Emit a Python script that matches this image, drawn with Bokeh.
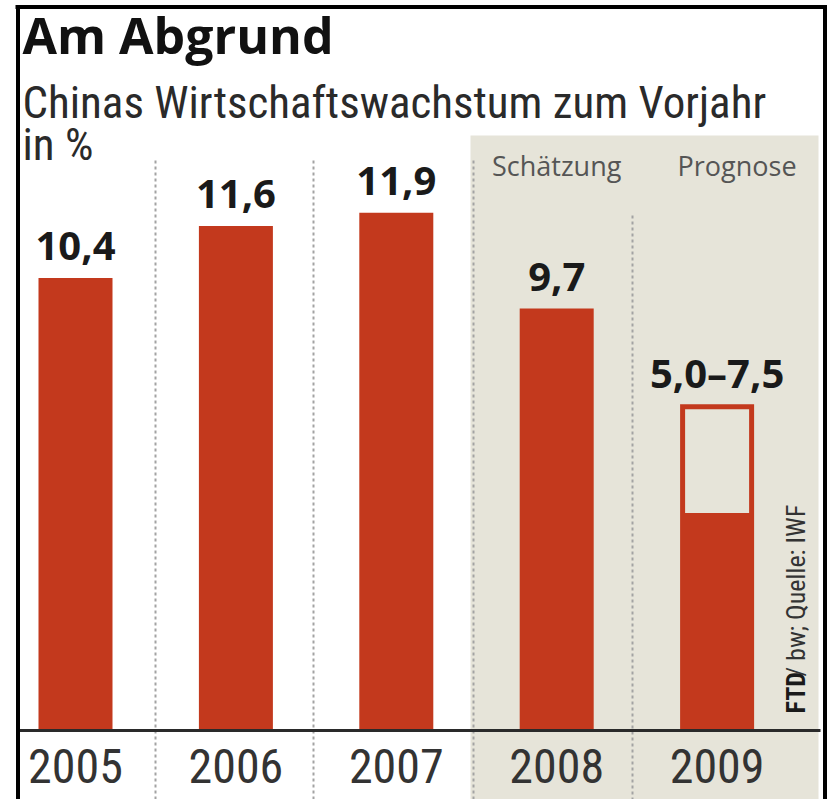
import math
from bokeh.plotting import figure
from bokeh.embed import file_html
from bokeh.resources import INLINE
from bokeh.models import Range1d
from bokeh.core.properties import value

# ---- data ----
years = ["2005", "2006", "2007", "2008", "2009"]
growth_low = [10.4, 11.6, 11.9, 9.7, 5.0]
growth_high = [10.4, 11.6, 11.9, 9.7, 7.5]
period_labels = ["Schätzung", "Prognose"]   # above 2008 and 2009
title_text = "Am Abgrund"
subtitle_text = "Chinas Wirtschaftswachstum zum Vorjahr"
unit_text = "in %"
source_bold = "FTD"
source_rest = "/ bw; Quelle: IWF"

# ---- styling / layout ----
RED = "#C3391D"
BEIGE = "#E6E4D9"
W, H = 830, 799
X0, DX = 75.0, 160.4     # pixel centre of first bar, pixels per category
Y0, DY = 730.0, 43.5     # pixel baseline, pixels per percent


def X(px):
    return (px - X0) / DX


def Y(py):
    return (Y0 - py) / DY


def fmt(v):
    return ("%.1f" % v).replace(".", ",")


labels = [fmt(hi) if lo == hi else fmt(lo) + "–" + fmt(hi) for lo, hi in zip(growth_low, growth_high)]
xs = list(range(len(years)))

p = figure(width=W, height=H, title=None, output_backend="svg", toolbar_location=None,
           x_range=Range1d(X(0), X(W)), y_range=Range1d(Y(H), Y(0)), min_border=0,
           x_axis_location=None, y_axis_location=None,
           background_fill_color="white", border_fill_color="white")
p.grid.visible = False
p.outline_line_color = None

# shaded forecast area
p.quad(left=[X(470)], right=[X(818)], top=[Y(135)], bottom=[Y(H)],
       fill_color=BEIGE, line_color=None)

# dotted separators
sep_px = [155, 313, 473, 632]
sep_top = [160, 160, 160, 215]
p.segment(x0=[X(s) for s in sep_px], x1=[X(s) for s in sep_px],
          y0=[Y(t) for t in sep_top], y1=[Y(H)] * 4,
          line_color="#a3a3a3", line_width=2, line_dash="3 3")

# bars
BW = 74 / DX
p.vbar(x=xs, top=growth_high, bottom=0, width=BW, fill_color=RED, line_color=None)
# open range part of the forecast bar
for i, (lo, hi) in enumerate(zip(growth_low, growth_high)):
    if hi > lo:
        inset = 5 / DX
        p.quad(left=[i - BW / 2 + inset], right=[i + BW / 2 - inset],
               bottom=[lo], top=[hi - 5 / DY], fill_color=BEIGE, line_color=None)

# baseline
p.segment(x0=[X(18)], x1=[X(820)], y0=[0], y1=[0], line_color="#2a2a2a", line_width=3)

# frame border
p.segment(x0=[X(15), X(17.5), X(824.5)], x1=[X(826.5), X(17.5), X(824.5)],
          y0=[Y(6.5), Y(5), Y(5)], y1=[Y(6.5), Y(H), Y(H)],
          line_color="black", line_width=4)

# value labels
p.text(x=xs, y=[hi + 32 / DY for hi in growth_high], text=labels,
       text_align="center", text_baseline="alphabetic",
       text_font=value("Open Sans"), text_font_style="bold", text_font_size="40px",
       text_color="#1a1a1a")

# year labels
p.text(x=xs, y=[Y(765)] * len(xs), text=years,
       text_align="center", text_baseline="alphabetic",
       text_font=value("Roboto Condensed"), text_font_size="48px", text_color="#333333")

# period labels
p.text(x=[3, 4 + 20 / DX], y=[Y(165)] * 2, text=period_labels,
       text_align="center", text_baseline="alphabetic",
       text_font=value("Open Sans"), text_font_size="27px", text_color="#555555")

# titles
p.text(x=[X(22)], y=[Y(34)], text=[title_text], text_align="left", text_baseline="alphabetic",
       text_font=value("Open Sans"), text_font_style="bold", text_font_size="50px",
       text_color="#111111")
p.text(x=[X(22), X(22)], y=[Y(102), Y(144)], text=[subtitle_text, unit_text],
       text_align="left", text_baseline="alphabetic",
       text_font=value("Roboto Condensed"), text_font_size="45px", text_color="#2a2a2a")

# source (rotated)
p.text(x=[X(795)], y=[Y(713)], text=[source_bold], angle=math.pi / 2,
       text_align="left", text_baseline="alphabetic",
       text_font=value("Roboto Condensed"), text_font_style="bold", text_font_size="26px",
       text_color="#1a1a1a")
p.text(x=[X(795)], y=[Y(676)], text=[source_rest], angle=math.pi / 2,
       text_align="left", text_baseline="alphabetic",
       text_font=value("Roboto Condensed"), text_font_size="26px", text_color="#333333")

open("out.html", "w").write(file_html(p, INLINE))
